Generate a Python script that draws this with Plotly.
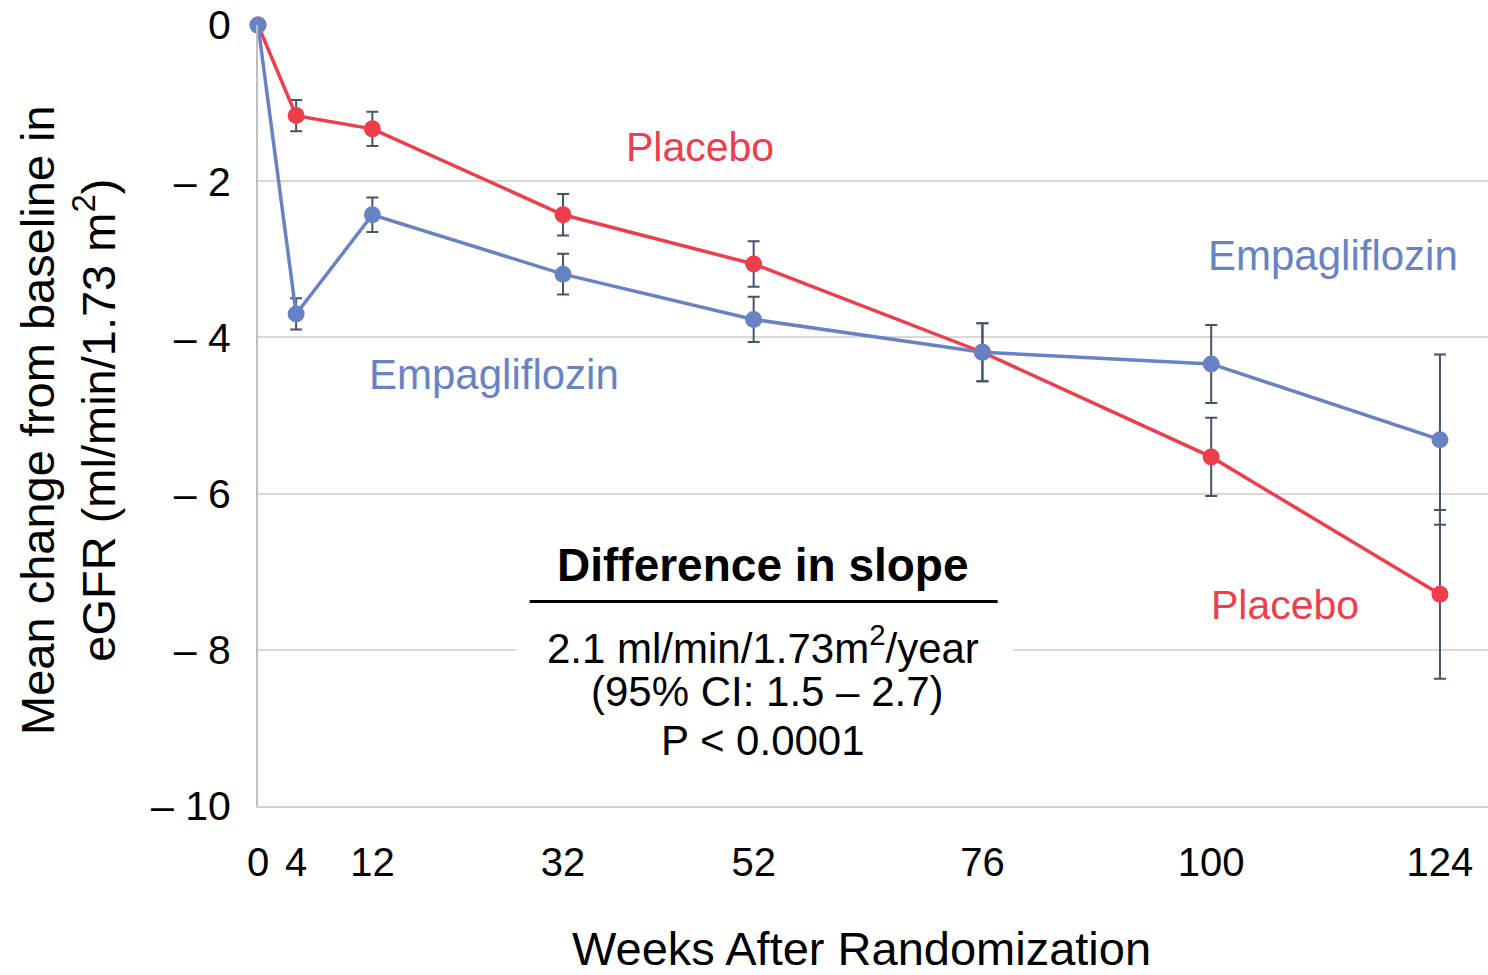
import plotly.graph_objects as go

weeks = [0, 4, 12, 32, 52, 76, 100, 124]
tick_labels = ["0", "4", "12", "32", "52", "76", "100", "124"]

placebo = [0, -1.16, -1.33, -2.43, -3.06, -4.19, -5.53, -7.29]
placebo_err = [0, 0.20, 0.22, 0.265, 0.29, 0.37, 0.50, 1.08]

empa = [0, -3.70, -2.43, -3.19, -3.77, -4.19, -4.34, -5.31]
empa_err = [0, 0.20, 0.22, 0.26, 0.29, 0.37, 0.50, 1.09]

y_ticks = [0, -2, -4, -6, -8, -10]
y_tick_labels = ["0", "– 2", "– 4", "– 6", "– 8", "– 10"]

RED = "#ee3d4b"
BLUE = "#6783c5"
ERR = "#44546a"
FONT = "Liberation Sans, Arial, sans-serif"

fig = go.Figure()

for name, vals, errs, col in [("Placebo", placebo, placebo_err, RED),
                              ("Empagliflozin", empa, empa_err, BLUE)]:
    fig.add_trace(go.Scatter(
        x=weeks, y=vals, name=name, mode="lines+markers",
        line=dict(color=col, width=3.5),
        marker=dict(color=col, size=17),
        error_y=dict(type="data", array=errs, visible=True,
                     color=ERR, thickness=2, width=6),
        cliponaxis=False, showlegend=False,
    ))

# white boxes hiding gridlines behind text
fig.add_shape(type="rect", x0=9.4, x1=41.8, y0=-4.3, y1=-4.75,
              fillcolor="white", line_width=0, layer="between")
fig.add_shape(type="rect", x0=27.0, x1=79.2, y0=-6.5, y1=-9.5,
              fillcolor="white", line_width=0, layer="between")
# underline under the heading
fig.add_shape(type="line", x0=28.5, x1=77.6, y0=-7.38, y1=-7.38,
              line=dict(color="black", width=3))

def ann(text, x, y, size, color="black", bold=False, **kw):
    if bold:
        text = "<b>" + text + "</b>"
    fig.add_annotation(x=x, y=y, xref="x", yref="y", text=text,
                       showarrow=False, font=dict(family=FONT, size=size, color=color), **kw)

ann("Placebo", 46.4, -1.56, 41, RED)
ann("Empagliflozin", 24.8, -4.48, 42, BLUE)
ann("Empagliflozin", 112.8, -2.95, 42, BLUE)
ann("Placebo", 107.7, -7.43, 41, RED)
ann("Difference in slope", 53.0, -6.92, 46, bold=True)
ann("2.1 ml/min/1.73m<sup>2</sup>/year", 53.0, -7.94, 42)
ann("(95% CI: 1.5 – 2.7)", 53.5, -8.54, 42)
ann("P < 0.0001", 53.0, -9.16, 42)

# axis titles
fig.add_annotation(x=861, y=948, xref="paper", yref="paper", text="Weeks After Randomization",
                   showarrow=False, font=dict(family=FONT, size=47, color="black"))
fig.add_annotation(x=68, y=420, xref="paper", yref="paper",
                   text="Mean change from baseline in<br>eGFR (ml/min/1.73 m<sup>2</sup>)",
                   textangle=-90, showarrow=False,
                   font=dict(family=FONT, size=47, color="black"))
# convert pixel-based paper positions
W, H = 1488, 975
L, R, T, B = 258, 0, 25, 169
pw, ph = W - L - R, H - T - B
for a in fig.layout.annotations[-2:]:
    px, py = a.x, a.y
    a.x = (px - L) / pw
    a.y = (H - B - py) / ph
    a.xanchor = "center"
    a.yanchor = "middle"

fig.update_layout(
    width=W, height=H,
    margin=dict(l=L, r=R, t=T, b=B),
    plot_bgcolor="white", paper_bgcolor="white",
    font=dict(family=FONT, size=40, color="black"),
    xaxis=dict(range=[0, 129.04], tickvals=weeks, ticktext=tick_labels,
               showgrid=False, zeroline=False, showline=True,
               linecolor="#d0d0d0", linewidth=2, ticks="", ticklabelstandoff=20,
               tickfont=dict(size=40)),
    yaxis=dict(range=[-10, 0], tickvals=y_ticks, ticktext=y_tick_labels,
               showgrid=True, gridcolor="#d9d9d9", gridwidth=2,
               zeroline=False, showline=True, linecolor="#bfbfbf", linewidth=2,
               ticks="", ticklabelstandoff=17, tickfont=dict(size=41)),
)

fig.write_html("out.html")
